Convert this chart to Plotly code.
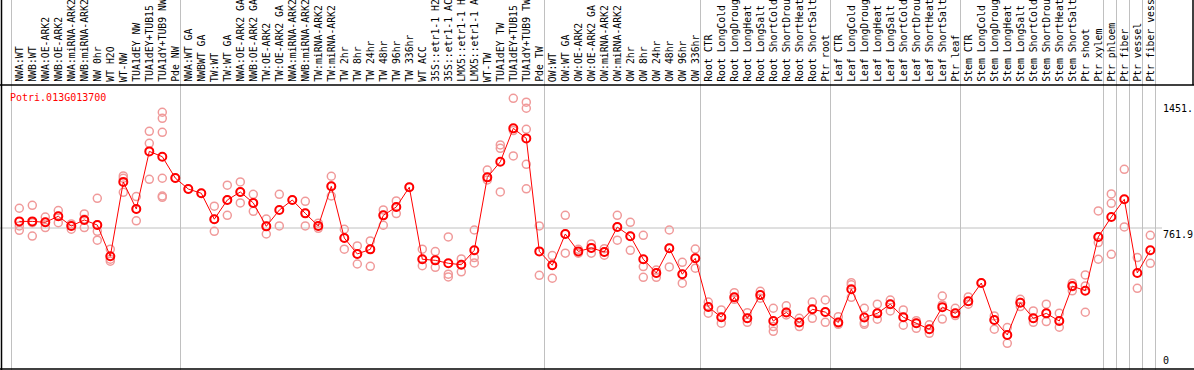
import plotly.graph_objects as go

# ---------------- data ----------------
gene = "Potri.013G013700"

labels = [
    "NWA:WT", "NWB:WT", "NWA:OE-ARK2", "NWB:OE-ARK2", "NWA:miRNA-ARK2", "NWB:miRNA-ARK2",
    "NW 0hr", "WT H2O", "WT-NW", "TUA1dEY NW", "TUA1dEY+TUB15 NW", "TUA1dY+TUB9 NW", "Pde NW",
    "NWA:WT GA", "NWBWT GA", "TW:WT", "TW:WT GA", "NWA:OE-ARK2 GA", "NWB:OE-ARK2 GA",
    "TW:OE-ARK2", "TW:OE-ARK2 GA", "NWA:miRNA-ARK2", "NWB:miRNA-ARK2", "TW:miRNA-ARK2",
    "TW:miRNA-ARK2", "TW 2hr", "TW 8hr", "TW 24hr", "TW 48hr", "TW 96hr", "TW 336hr", "WT ACC",
    "35S::etr1-1 H2O", "35S::etr1-1 ACC", "LMX5::etr1-1 H2O", "LMX5::etr1-1 ACC", "WT-TW",
    "TUA1dEY TW", "TUA1dEY+TUB15 TW", "TUA1dY+TUB9 TW", "Pde TW",
    "OW:WT", "OW:WT GA", "OW:OE-ARK2", "OW:OE-ARK2 GA", "OW:miRNA-ARK2", "OW:miRNA-ARK2",
    "OW 2hr", "OW 8hr", "OW 24hr", "OW 48hr", "OW 96hr", "OW 336hr",
    "Root CTR", "Root LongCold", "Root LongDrought", "Root LongHeat", "Root LongSalt",
    "Root ShortCold", "Root ShortDrought", "Root ShortHeat", "Root ShortSalt", "Ptr root",
    "Leaf CTR", "Leaf LongCold", "Leaf LongDrought", "Leaf LongHeat", "Leaf LongSalt",
    "Leaf ShortCold", "Leaf ShortDrought", "Leaf ShortHeat", "Leaf ShortSalt", "Ptr leaf",
    "Stem CTR", "Stem LongCold", "Stem LongDrought", "Stem LongHeat", "Stem LongSalt",
    "Stem ShortCold", "Stem ShortDrought", "Stem ShortHeat", "Stem ShortSalt", "Ptr shoot",
    "Ptr xylem",
    "Ptr phloem", "Ptr fiber", "Ptr vessel", "Ptr fiber vessel",
]

group_sizes = [13, 28, 12, 10, 10, 11, 1, 1, 1, 1]

means = [
    798, 798, 793, 826, 773, 806, 778, 607, 1014, 866, 1181, 1152, 1035,
    975, 952, 810, 915, 959, 899, 771, 860, 915, 842, 773, 990, 707, 620, 645, 831, 877,
    985, 591, 585, 569, 561, 640, 1039, 1124, 1307, 1252, 634,
    558, 729, 634, 653, 631, 767, 717, 591, 516, 651, 509, 596,
    330, 274, 383, 268, 395, 253, 300, 245, 317, 302,
    245, 427, 272, 295, 345, 274, 241, 208, 329, 295,
    361, 461, 259, 177, 353, 268, 295, 253, 444, 419, 713,
    822, 919, 516, 640,
]

replicates = [
    [870, 773, 749], [886, 791, 718], [822, 793, 764], [857, 826, 791], [784, 773, 755],
    [839, 810, 764], [924, 779, 744, 695], [646, 591, 580], [1047, 1034, 957],
    [934, 866, 801], [1291, 1225, 1028], [1395, 1362, 1285, 1034, 937, 930], [1035],
    [975], [952], [881, 810, 744], [996, 915, 831], [1014, 959, 899], [946, 899, 853],
    [811, 771, 729], [946, 773], [915], [908, 842, 773], [788, 773, 760], [1045, 990, 937],
    [755, 708, 646], [664, 620, 565], [691, 646, 552], [861, 831, 777], [910, 877, 841],
    [985], [646, 591, 556], [633, 585, 547], [713, 509, 494], [593, 562, 522],
    [751, 600, 571], [1079, 1039, 1025], [1216, 1198, 959], [1471, 1295, 1156],
    [1450, 1417, 1302, 1110, 976], [773, 503],
    [611, 558, 487], [831, 729, 624], [645, 624], [675, 653, 624], [649, 631, 613],
    [831, 768, 695], [793, 717, 640], [722, 551, 492], [532, 516, 492], [751, 651, 549],
    [574, 509, 460], [647, 596, 542],
    [357, 330, 296], [314, 274, 241], [408, 383, 372], [299, 268, 246], [416, 396, 378],
    [323, 223, 197], [336, 301, 286], [268, 246, 223], [357, 317, 268], [368, 303, 246],
    [277, 246, 235], [463, 451, 383], [323, 244, 235], [345, 296, 263], [368, 345, 308],
    [314, 274, 230], [255, 241, 213], [232, 208, 186], [390, 341, 264], [323, 296, 283],
    [385, 361, 345], [461], [281, 259, 208], [217, 177, 131], [372, 354, 332],
    [308, 268, 246], [345, 296, 250], [296, 254, 219], [460, 441, 418], [505, 445, 301],
    [855, 713, 682, 591],
    [948, 897, 618], [1083, 768], [600, 432], [722, 569],
]

y_tick_labels = [(1451, "1451."), (761.9, "761.9")]
grid_value = 761.9

# ---------------- figure ----------------
W, H = 1194, 370
cols = list(range(1, len(labels) + 1))

rx, ry = [], []
for c, reps in zip(cols, replicates):
    for v in reps:
        rx.append(c)
        ry.append(v)

FONT = "DejaVu Sans Mono"
fig = go.Figure()
fig.add_trace(go.Scatter(
    x=rx, y=ry, mode="markers", hoverinfo="skip",
    marker=dict(symbol="circle-open", size=8, color="#f09a9a", line=dict(width=1.5, color="#f09a9a")),
))
fig.add_trace(go.Scatter(
    x=cols, y=means, mode="lines+markers",
    line=dict(color="#ff0000", width=1),
    marker=dict(symbol="circle-open", size=8, color="#ff0000", line=dict(width=2, color="#ff0000")),
))

# header/plot split (pixels)
header_bottom_px = 85
plot_bottom_px = 369

shapes = []
# group boundary gridlines
b = 0
bounds = [0]
for g in group_sizes:
    b += g
    bounds.append(b)
for bb in bounds:
    shapes.append(dict(type="line", xref="x", yref="paper", x0=bb + 0.4, x1=bb + 0.4, y0=0, y1=1,
                       line=dict(color="#c0c0c0", width=1), layer="below"))
# horizontal grid at mid value
shapes.append(dict(type="line", xref="paper", yref="y", x0=0, x1=1162 / W, y0=grid_value, y1=grid_value,
                   line=dict(color="#c0c0c0", width=1), layer="below"))
# borders
blk = dict(color="black", width=1.5)
shapes += [
    dict(type="line", xref="paper", yref="paper", x0=1.5 / W, x1=1.5 / W, y0=0, y1=1, line=blk),
    dict(type="line", xref="paper", yref="paper", x0=0, x1=1, y0=1 - header_bottom_px / H,
         y1=1 - header_bottom_px / H, line=blk),
    dict(type="line", xref="paper", yref="paper", x0=0, x1=1, y0=1 - plot_bottom_px / H,
         y1=1 - plot_bottom_px / H, line=blk),
    dict(type="line", xref="paper", yref="paper", x0=1193 / W, x1=1193 / W, y0=1 - header_bottom_px / H,
         y1=1, line=blk),
]

MAXCH = 14  # the header only has room for this many characters
annotations = []
for c, lab in zip(cols, labels):
    annotations.append(dict(
        x=c, xref="x", y=1 - 83 / H, yref="paper", text=lab[:MAXCH], showarrow=False,
        textangle=-90, xanchor="center", yanchor="bottom",
        font=dict(family=FONT, size=9.8, color="black"), borderpad=0,
    ))
annotations.append(dict(
    x=9 / W, xref="paper", y=1 - 91 / H, yref="paper", text=gene, showarrow=False,
    xanchor="left", yanchor="top", font=dict(family=FONT, size=10, color="#ff0000"), borderpad=0,
))
for v, t in y_tick_labels:
    annotations.append(dict(
        x=1162 / W, xref="paper", y=v, yref="y", text=t, showarrow=False,
        xanchor="left", yanchor="top", font=dict(family=FONT, size=10, color="black"), borderpad=0,
    ))
annotations.append(dict(
    x=1162 / W, xref="paper", y=1 - 367 / H, yref="paper", text="0", showarrow=False,
    xanchor="left", yanchor="bottom", font=dict(family=FONT, size=10, color="black"), borderpad=0,
))

# pixel mapping: column i at 19.3 + 13*(i-1) px; value v at 228 - (v-761.9)/5.47 px
px_per_col = 13.0
x0_val = 1 - 19.3 / px_per_col
x1_val = 1 + (W - 19.3) / px_per_col
upp = 5.47
y_lo = 761.9 - (plot_bottom_px - 228) * upp
y_hi = 761.9 + (228 - header_bottom_px) * upp

fig.update_layout(
    width=W, height=H, margin=dict(l=0, r=0, t=0, b=0),
    paper_bgcolor="white", plot_bgcolor="white", showlegend=False,
    xaxis=dict(range=[x0_val, x1_val], visible=False, domain=[0, 1]),
    yaxis=dict(range=[y_lo, y_hi], visible=False,
               domain=[1 - plot_bottom_px / H, 1 - header_bottom_px / H]),
    shapes=shapes, annotations=annotations,
)

fig.write_html("out.html", config={"displayModeBar": False},
               post_script="document.body.style.margin='0';")
